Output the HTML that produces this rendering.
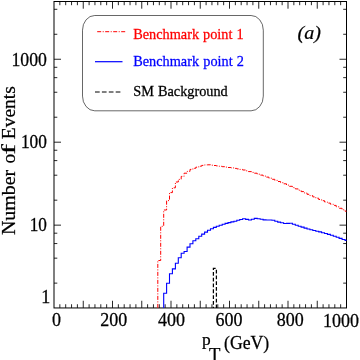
<!DOCTYPE html>
<html><head><meta charset="utf-8"><title>chart</title>
<style>
html,body{margin:0;padding:0;background:#fff;}
body{width:360px;height:360px;overflow:hidden;}
svg{display:block;will-change:transform;}
text{font-family:"Liberation Serif",serif;fill:#000;stroke:#000;stroke-width:0.25px;}
</style></head><body>
<svg width="360" height="360" viewBox="0 0 360 360">
<rect x="0" y="0" width="360" height="360" fill="#fff"/>
<rect x="54.0" y="1.5" width="292.5" height="306.45" fill="none" stroke="#000" stroke-width="1"/>
<path d="M59.85,307.95 v-3.7 M59.85,1.5 v3.7 M65.70,307.95 v-3.7 M65.70,1.5 v3.7 M71.55,307.95 v-3.7 M71.55,1.5 v3.7 M77.40,307.95 v-3.7 M77.40,1.5 v3.7 M83.25,307.95 v-7.2 M83.25,1.5 v7.2 M89.10,307.95 v-3.7 M89.10,1.5 v3.7 M94.95,307.95 v-3.7 M94.95,1.5 v3.7 M100.80,307.95 v-3.7 M100.80,1.5 v3.7 M106.65,307.95 v-3.7 M106.65,1.5 v3.7 M112.50,307.95 v-7.2 M112.50,1.5 v7.2 M118.35,307.95 v-3.7 M118.35,1.5 v3.7 M124.20,307.95 v-3.7 M124.20,1.5 v3.7 M130.05,307.95 v-3.7 M130.05,1.5 v3.7 M135.90,307.95 v-3.7 M135.90,1.5 v3.7 M141.75,307.95 v-7.2 M141.75,1.5 v7.2 M147.60,307.95 v-3.7 M147.60,1.5 v3.7 M153.45,307.95 v-3.7 M153.45,1.5 v3.7 M159.30,307.95 v-3.7 M159.30,1.5 v3.7 M165.15,307.95 v-3.7 M165.15,1.5 v3.7 M171.00,307.95 v-7.2 M171.00,1.5 v7.2 M176.85,307.95 v-3.7 M176.85,1.5 v3.7 M182.70,307.95 v-3.7 M182.70,1.5 v3.7 M188.55,307.95 v-3.7 M188.55,1.5 v3.7 M194.40,307.95 v-3.7 M194.40,1.5 v3.7 M200.25,307.95 v-7.2 M200.25,1.5 v7.2 M206.10,307.95 v-3.7 M206.10,1.5 v3.7 M211.95,307.95 v-3.7 M211.95,1.5 v3.7 M217.80,307.95 v-3.7 M217.80,1.5 v3.7 M223.65,307.95 v-3.7 M223.65,1.5 v3.7 M229.50,307.95 v-7.2 M229.50,1.5 v7.2 M235.35,307.95 v-3.7 M235.35,1.5 v3.7 M241.20,307.95 v-3.7 M241.20,1.5 v3.7 M247.05,307.95 v-3.7 M247.05,1.5 v3.7 M252.90,307.95 v-3.7 M252.90,1.5 v3.7 M258.75,307.95 v-7.2 M258.75,1.5 v7.2 M264.60,307.95 v-3.7 M264.60,1.5 v3.7 M270.45,307.95 v-3.7 M270.45,1.5 v3.7 M276.30,307.95 v-3.7 M276.30,1.5 v3.7 M282.15,307.95 v-3.7 M282.15,1.5 v3.7 M288.00,307.95 v-7.2 M288.00,1.5 v7.2 M293.85,307.95 v-3.7 M293.85,1.5 v3.7 M299.70,307.95 v-3.7 M299.70,1.5 v3.7 M305.55,307.95 v-3.7 M305.55,1.5 v3.7 M311.40,307.95 v-3.7 M311.40,1.5 v3.7 M317.25,307.95 v-7.2 M317.25,1.5 v7.2 M323.10,307.95 v-3.7 M323.10,1.5 v3.7 M328.95,307.95 v-3.7 M328.95,1.5 v3.7 M334.80,307.95 v-3.7 M334.80,1.5 v3.7 M340.65,307.95 v-3.7 M340.65,1.5 v3.7 M54.0,283.13 h3.3 M346.5,283.13 h-3.3 M54.0,258.16 h3.3 M346.5,258.16 h-3.3 M54.0,243.55 h3.3 M346.5,243.55 h-3.3 M54.0,233.19 h3.3 M346.5,233.19 h-3.3 M54.0,225.15 h7.0 M346.5,225.15 h-7.0 M54.0,200.18 h3.3 M346.5,200.18 h-3.3 M54.0,175.21 h3.3 M346.5,175.21 h-3.3 M54.0,160.60 h3.3 M346.5,160.60 h-3.3 M54.0,150.24 h3.3 M346.5,150.24 h-3.3 M54.0,142.20 h7.0 M346.5,142.20 h-7.0 M54.0,117.23 h3.3 M346.5,117.23 h-3.3 M54.0,92.26 h3.3 M346.5,92.26 h-3.3 M54.0,77.65 h3.3 M346.5,77.65 h-3.3 M54.0,67.29 h3.3 M346.5,67.29 h-3.3 M54.0,59.25 h7.0 M346.5,59.25 h-7.0 M54.0,34.28 h3.3 M346.5,34.28 h-3.3 M54.0,9.31 h3.3 M346.5,9.31 h-3.3" stroke="#000" stroke-width="0.85" fill="none"/>
<path d="M157.8,307.9 L157.8,260.5 L160.7,260.5 L160.7,226.3 L163.7,226.3 L163.7,210.0 L166.6,210.0 L166.6,200.6 L169.5,200.6 L169.5,192.6 L172.4,192.6 L172.4,187.8 L175.4,187.8 L175.4,182.0 L178.3,182.0 L178.3,179.4 L181.2,179.4 L181.2,176.4 L184.1,176.4 L184.1,173.2 L187.1,173.2 L187.1,171.4 L190.0,171.4 L190.0,169.4 L192.9,169.4 L192.9,168.3 L195.8,168.3 L195.8,167.2 L198.8,167.2 L198.8,166.2 L201.7,166.2 L201.7,165.4 L204.6,165.4 L204.6,164.9 L207.5,164.9 L207.5,164.8 L210.5,164.8 L210.5,165.2 L213.4,165.2 L213.4,165.5 L216.3,165.5 L216.3,165.9 L219.2,165.9 L219.2,166.3 L222.2,166.3 L222.2,166.7 L225.1,166.7 L225.1,167.1 L228.0,167.1 L228.0,167.5 L230.9,167.5 L230.9,167.9 L233.9,167.9 L233.9,168.4 L236.8,168.4 L236.8,168.9 L239.7,168.9 L239.7,169.4 L242.6,169.4 L242.6,170.0 L245.6,170.0 L245.6,170.8 L248.5,170.8 L248.5,171.6 L251.4,171.6 L251.4,172.4 L254.3,172.4 L254.3,173.2 L257.2,173.2 L257.2,174.2 L260.2,174.2 L260.2,175.1 L263.1,175.1 L263.1,176.1 L266.0,176.1 L266.0,177.1 L268.9,177.1 L268.9,178.2 L271.9,178.2 L271.9,179.3 L274.8,179.3 L274.8,180.4 L277.7,180.4 L277.7,181.5 L280.6,181.5 L280.6,182.7 L283.6,182.7 L283.6,183.8 L286.5,183.8 L286.5,185.1 L289.4,185.1 L289.4,186.3 L292.4,186.3 L292.4,187.6 L295.3,187.6 L295.3,188.9 L298.2,188.9 L298.2,190.2 L301.1,190.2 L301.1,191.6 L304.1,191.6 L304.1,192.9 L307.0,192.9 L307.0,194.3 L309.9,194.3 L309.9,195.6 L312.8,195.6 L312.8,196.9 L315.8,196.9 L315.8,198.2 L318.7,198.2 L318.7,199.5 L321.6,199.5 L321.6,200.7 L324.5,200.7 L324.5,201.9 L327.4,201.9 L327.4,203.1 L330.4,203.1 L330.4,204.2 L333.3,204.2 L333.3,205.4 L336.2,205.4 L336.2,206.8 L339.1,206.8 L339.1,208.3 L342.1,208.3 L342.1,209.8 L345.0,209.8 L345.0,211.2 L346.5,211.2" stroke="#f00" stroke-width="1" fill="none" stroke-dasharray="4 1.5 1 1.5"/>
<path d="M163.7,307.9 L163.7,293.3 L166.6,293.3 L166.6,283.3 L169.5,283.3 L169.5,273.8 L172.4,273.8 L172.4,268.9 L175.4,268.9 L175.4,263.3 L178.3,263.3 L178.3,257.8 L181.2,257.8 L181.2,253.3 L184.1,253.3 L184.1,251.5 L187.1,251.5 L187.1,247.1 L190.0,247.1 L190.0,243.8 L192.9,243.8 L192.9,240.7 L195.8,240.7 L195.8,238.7 L198.8,238.7 L198.8,236.3 L201.7,236.3 L201.7,234.1 L204.6,234.1 L204.6,232.1 L207.5,232.1 L207.5,230.2 L210.5,230.2 L210.5,228.7 L213.4,228.7 L213.4,227.4 L216.3,227.4 L216.3,226.2 L219.2,226.2 L219.2,225.2 L222.2,225.2 L222.2,224.2 L225.1,224.2 L225.1,223.4 L228.0,223.4 L228.0,222.6 L230.9,222.6 L230.9,221.9 L233.9,221.9 L233.9,221.2 L236.8,221.2 L236.8,220.3 L239.7,220.3 L239.7,219.5 L242.6,219.5 L242.6,218.8 L245.6,218.8 L245.6,219.4 L248.5,219.4 L248.5,220.0 L251.4,220.0 L251.4,219.2 L254.3,219.2 L254.3,218.4 L257.2,218.4 L257.2,218.7 L260.2,218.7 L260.2,219.3 L263.1,219.3 L263.1,219.9 L266.0,219.9 L266.0,220.0 L268.9,220.0 L268.9,220.0 L271.9,220.0 L271.9,220.3 L274.8,220.3 L274.8,221.3 L277.7,221.3 L277.7,222.1 L280.6,222.1 L280.6,222.8 L283.6,222.8 L283.6,223.5 L286.5,223.5 L286.5,223.4 L289.4,223.4 L289.4,223.3 L292.4,223.3 L292.4,224.3 L295.3,224.3 L295.3,225.2 L298.2,225.2 L298.2,226.2 L301.1,226.2 L301.1,227.1 L304.1,227.1 L304.1,228.1 L307.0,228.1 L307.0,229.0 L309.9,229.0 L309.9,229.8 L312.8,229.8 L312.8,230.5 L315.8,230.5 L315.8,231.2 L318.7,231.2 L318.7,231.9 L321.6,231.9 L321.6,232.7 L324.5,232.7 L324.5,233.5 L327.4,233.5 L327.4,234.4 L330.4,234.4 L330.4,235.3 L333.3,235.3 L333.3,236.2 L336.2,236.2 L336.2,237.3 L339.1,237.3 L339.1,238.4 L342.1,238.4 L342.1,239.5 L345.0,239.5 L345.0,240.4 L346.5,240.4" stroke="#00f" stroke-width="1.1" fill="none"/>
<path d="M213.4,307.95 V268.4 H216.4 V307.95" stroke="#000" stroke-width="1.25" fill="none" stroke-dasharray="3.8 2" stroke-dashoffset="2.6"/>
<rect x="82.5" y="15.5" width="180.8" height="95.3" rx="12.2" ry="14.7" fill="#fff" stroke="#000" stroke-width="0.6"/>
<path d="M97.2,31.7 H125.3" stroke="#f00" stroke-width="1" stroke-dasharray="4 1.5 1 1.5"/>
<path d="M95,61.7 H122.5" stroke="#00f" stroke-width="1.2"/>
<path d="M95,92.0 H120.5" stroke="#000" stroke-width="1" stroke-dasharray="4.7 2.2"/>
<text transform="translate(133.2,39.2) scale(1,1.04)" font-size="14.3" text-anchor="start" style="fill:#f00;stroke:#f00;word-spacing:0.4px">Benchmark point 1</text>
<text transform="translate(133.2,65.7) scale(1,1.04)" font-size="14.3" text-anchor="start" style="fill:#00f;stroke:#00f;word-spacing:0.6px">Benchmark point 2</text>
<text transform="translate(133.2,96.2) scale(1,1.04)" font-size="14.3" text-anchor="start" style="word-spacing:0.5px">SM Background</text>
<text transform="translate(297.5,38.8) scale(1,0.91)" font-size="20" text-anchor="start" font-style="italic">(a)</text>
<text transform="translate(46.9,65.6) scale(1,1.1084745762711865)" font-size="17.7" text-anchor="end" >1000</text>
<text transform="translate(46.9,148.0) scale(1,1.1341040462427745)" font-size="17.3" text-anchor="end" >100</text>
<text transform="translate(46.9,230.9) scale(1,1.1406976744186048)" font-size="17.2" text-anchor="end" >10</text>
<text transform="translate(50.2,303.1) scale(1,1.09)" font-size="18" text-anchor="end" >1</text>
<text transform="translate(56.5,326.4) scale(1,1.09)" font-size="18" text-anchor="middle" >0</text>
<text transform="translate(113.8,326.4) scale(1,1.09)" font-size="18" text-anchor="middle" >200</text>
<text transform="translate(171.4,326.4) scale(1,1.09)" font-size="18" text-anchor="middle" >400</text>
<text transform="translate(228.9,326.4) scale(1,1.09)" font-size="18" text-anchor="middle" >600</text>
<text transform="translate(290.2,326.4) scale(1,1.09)" font-size="18" text-anchor="middle" >800</text>
<text transform="translate(358.9,326.6) scale(1,1.09)" font-size="18" text-anchor="end" >1000</text>
<text transform="translate(14.6,235.0) rotate(-90) scale(1.02,1)" font-size="19.5">Number</text>
<text transform="translate(14.6,163.4) rotate(-90)" font-size="19.5">o</text>
<text transform="translate(14.6,154.6) rotate(-90) scale(1.6,1)" font-size="19.5">f</text>
<text transform="translate(14.6,139.2) rotate(-90) scale(1.0,1)" font-size="19.5">Events</text>
<text transform="translate(201.9,345.2) scale(1,0.98)" font-size="17.4" text-anchor="start" >p</text>
<text transform="translate(208.9,361.4) scale(1,1.0)" font-size="18.7" text-anchor="start" >T</text>
<text transform="translate(224.0,349.2) scale(1,1.01)" font-size="17.7" text-anchor="start" >(GeV)</text>
</svg>
</body></html>
